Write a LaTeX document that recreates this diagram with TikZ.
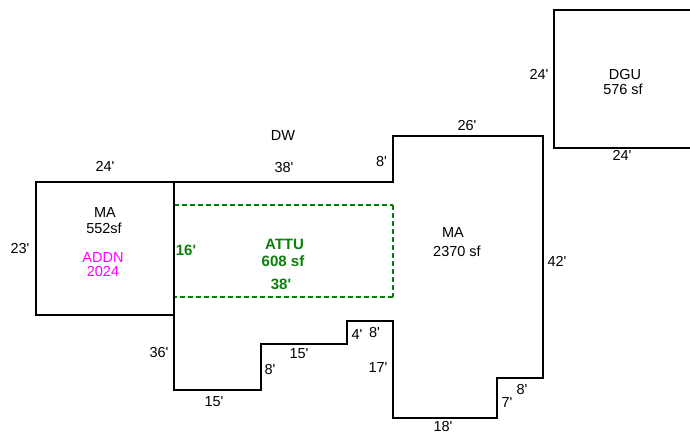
\documentclass[tikz,border=0pt]{standalone}
\usepackage{fontspec}
\setmainfont{Liberation Sans}[Ligatures=TeXOff]
\definecolor{attu}{RGB}{10,128,10}
\definecolor{addn}{RGB}{255,0,255}
\tikzset{
  wall/.style={draw=black,line width=2pt,line join=miter},
  attic/.style={draw=attu,line width=1.6pt,dash pattern=on 5.2pt off 2.8pt},
  lbl/.style={inner sep=0pt,font=\fontsize{14.5}{14.5}\selectfont,text=black},
  glbl/.style={inner sep=0pt,font=\fontsize{15}{15}\selectfont\bfseries,text=attu},
  mlbl/.style={inner sep=0pt,font=\fontsize{14.5}{14.5}\selectfont,text=addn}
}
\begin{document}
\begin{tikzpicture}[x=1pt,y=-1pt]
\useasboundingbox (0,0) rectangle (690,434);
\fill[white] (0,0) rectangle (690,434);
\coordinate (a1) at (174,182);
\coordinate (a2) at (393,182);
\coordinate (a3) at (393,136);
\coordinate (a4) at (543,136);
\coordinate (a5) at (543,378);
\coordinate (a6) at (497,378);
\coordinate (a7) at (497,418);
\coordinate (a8) at (393,418);
\coordinate (a9) at (393,320.5);
\coordinate (a10) at (347,320.5);
\coordinate (a11) at (347,343.5);
\coordinate (a12) at (260.5,343.5);
\coordinate (a13) at (260.5,389.5);
\coordinate (a14) at (174,389.5);
\coordinate (a15) at (174,315);
\draw[attic] (174,205) -- (393,205);
\draw[attic] (393,205) -- (393,297.2);
\draw[attic] (393,297.2) -- (174,297.2);
\draw[wall] (a15) -- (a14) -- (a13) -- (a12) -- (a11) -- (a10) -- (a9) -- (a8) -- (a7) -- (a6) -- (a5) -- (a4) -- (a3) -- (a2) -- (a1);
\draw[wall] (36,182) rectangle (174,315);
\draw[wall] (691,9.5) -- (554.3,9.5) -- (554.3,147.5) -- (691,147.5);
\node[lbl] (n1) at (105,166.5) {24'};
\node[lbl] (n2) at (20,248.5) {23'};
\node[lbl] (n3) at (105,212.5) {MA};
\node[lbl] (n4) at (104,228.5) {552sf};
\node[mlbl] (n5) at (103,257.5) {ADDN};
\node[mlbl] (n6) at (103,271.5) {2024};
\node[lbl] (n7) at (283,135.5) {DW};
\node[lbl] (n8) at (284,168) {38'};
\node[lbl] (n9) at (381.5,161.5) {8'};
\node[lbl] (n10) at (467,125.5) {26'};
\node[lbl] (n11) at (453,232.5) {MA};
\node[lbl] (n12) at (457,251.5) {2370 sf};
\node[lbl] (n13) at (557,261.5) {42'};
\node[lbl] (n14) at (539,74.5) {24'};
\node[lbl] (n15) at (625,74.5) {DGU};
\node[lbl] (n16) at (623,89) {576 sf};
\node[lbl] (n17) at (622,155.5) {24'};
\node[lbl] (n18) at (159,352.5) {36'};
\node[lbl] (n19) at (214,401.5) {15'};
\node[lbl] (n20) at (270,369.5) {8'};
\node[lbl] (n21) at (299,353.5) {15'};
\node[lbl] (n22) at (357,334.5) {4'};
\node[lbl] (n23) at (374.5,332.5) {8'};
\node[lbl] (n24) at (378,367.5) {17'};
\node[lbl] (n25) at (443,427) {18'};
\node[lbl] (n26) at (507,402.5) {7'};
\node[lbl] (n27) at (522,389.5) {8'};
\node[glbl] (n28) at (186,250.5) {16'};
\node[glbl] (n29) at (284.5,244.5) {ATTU};
\node[glbl] (n30) at (283,261.5) {608 sf};
\node[glbl] (n31) at (281,284.5) {38'};
\end{tikzpicture}
\end{document}
